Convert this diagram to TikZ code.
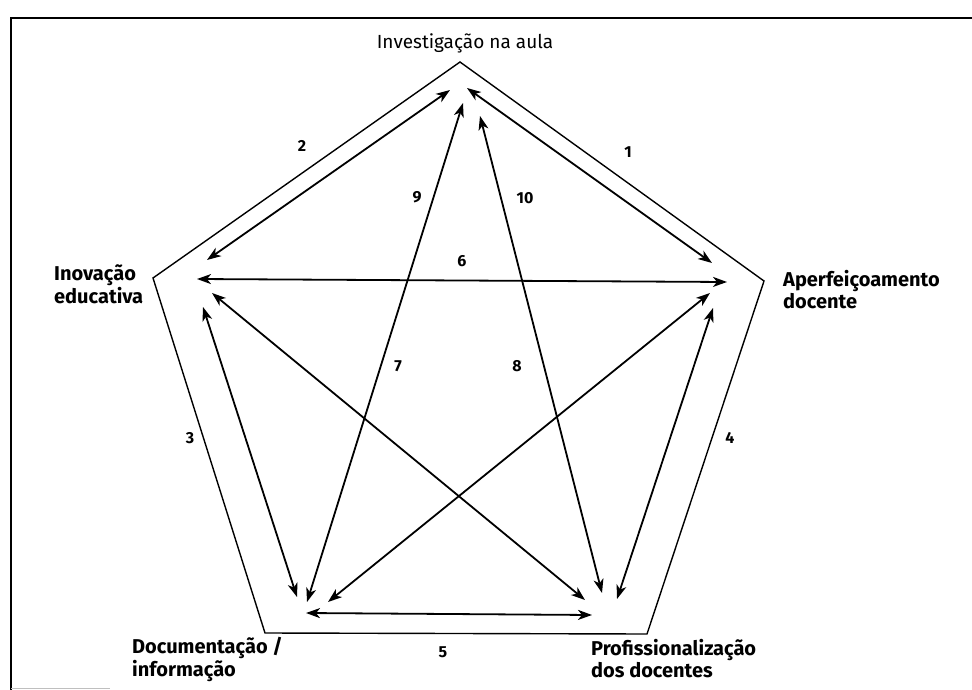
\documentclass[tikz,border=0pt]{standalone}
\usepackage{fontspec}
\setmainfont{Fira Sans}
\usetikzlibrary{arrows.meta}
\begin{document}
\begin{tikzpicture}[x=1pt,y=-1pt,
  edge/.style={line width=1.4pt},
  link/.style={line width=1.8pt,{Stealth[length=14pt,width=10pt,inset=4pt]}-{Stealth[length=14pt,width=10pt,inset=4pt]}},
  lab/.style={font=\fontsize{16}{16}\selectfont\bfseries,inner sep=0pt},
  vtxlabel/.style={font=\fontsize{20}{15.5}\selectfont\bfseries,align=left,anchor=base west,inner sep=0pt}]
\useasboundingbox (0,0) rectangle (972,690);
% frame
\draw[line width=1.4pt] (972,18) -- (11,18) -- (11,690);
\draw[line width=0.6pt,gray!50] (11,688) -- (110,688);
% pentagon
\coordinate (T) at (460,62);
\coordinate (R) at (764,281);
\coordinate (BR) at (647,634);
\coordinate (BL) at (265,633);
\coordinate (L) at (153,278);
\draw[edge] (T) -- (R) -- (BR) -- (BL) -- (L) -- cycle;
% labels (base anchor = baseline of last line)
\node[font=\fontsize{19}{15}\selectfont,inner sep=0pt,anchor=base] (tI) at (465,49) {Investigação na aula};
\node[vtxlabel] (tL) at (54,303) {Inovação\\educativa};
\node[vtxlabel] (tR) at (783,308) {Aperfeiçoamento\\docente};
\node[vtxlabel] (tBL) at (132,676) {Documentação /\\informação};
\node[vtxlabel] (tBR) at (591,677) {Profissionalização\\dos docentes};
% arrow end points
\coordinate (t2) at (450,90);
\coordinate (t1) at (467,88);
\coordinate (t9) at (463,103);
\coordinate (t10) at (480,116);
\coordinate (l2) at (207,260);
\coordinate (l6) at (197,279);
\coordinate (l8) at (212,293);
\coordinate (l3) at (203,307);
\coordinate (r1) at (712,263);
\coordinate (r6) at (727,282);
\coordinate (r7) at (710,293);
\coordinate (r4) at (713,308);
\coordinate (bl3) at (297,597);
\coordinate (bl9) at (307,602);
\coordinate (bl7) at (328,602);
\coordinate (bl5) at (306,613);
\coordinate (br8) at (585,600);
\coordinate (br10) at (602,593);
\coordinate (br4) at (617,599);
\coordinate (br5) at (592,615);
% connectors
\draw[link] (t1) -- (r1);
\draw[link] (t2) -- (l2);
\draw[link] (l3) -- (bl3);
\draw[link] (r4) -- (br4);
\draw[link] (bl5) -- (br5);
\draw[link] (l6) -- (r6);
\draw[link] (r7) -- (bl7);
\draw[link] (l8) -- (br8);
\draw[link] (t9) -- (bl9);
\draw[link] (t10) -- (br10);
% numbers
\node[lab] (n1) at (628,152) {1};
\node[lab] (n2) at (302,146) {2};
\node[lab] (n3) at (190,438) {3};
\node[lab] (n4) at (730,438) {4};
\node[lab] (n5) at (443,652) {5};
\node[lab] (n6) at (462,261) {6};
\node[lab] (n7) at (398,366) {7};
\node[lab] (n8) at (517,366) {8};
\node[lab] (n9) at (417,197) {9};
\node[lab] (n10) at (525,198) {10};
\end{tikzpicture}
\end{document}
